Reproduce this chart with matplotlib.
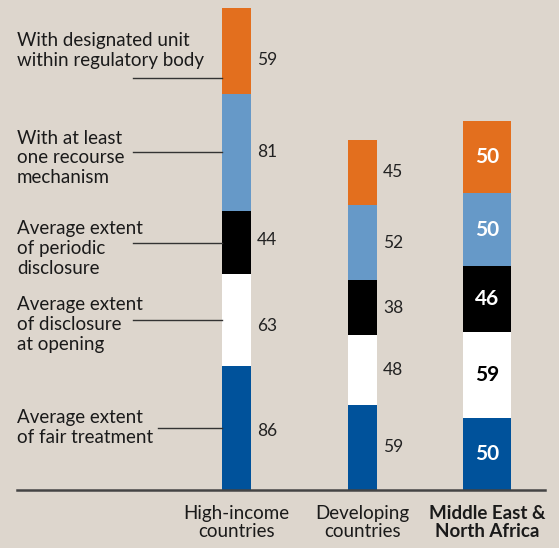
import matplotlib.pyplot as plt
import numpy as np

plt.rcParams['font.family'] = ['Lato', 'DejaVu Sans']

# data
groups = ['High-income\ncountries', 'Developing\ncountries', 'Middle East &\nNorth Africa']
components = ['Average extent\nof fair treatment',
              'Average extent\nof disclosure\nat opening',
              'Average extent\nof periodic\ndisclosure',
              'With at least\none recourse\nmechanism',
              'With designated unit\nwithin regulatory body']
high_income = [86, 63, 44, 81, 59]
developing = [59, 48, 38, 52, 45]
mena = [50, 59, 46, 50, 50]

colors = ['#00529b', '#ffffff', '#000000', '#6699c8', '#e36f1e']
bg = '#ddd6cd'

# layout (pixels)
W, H = 559, 548
base_px = 490
scale = 1.447  # px per unit
centers = [236.5, 362.5, 487]
widths = [29, 29, 48]
hi_val_dy = [-2, -4, 2, 0, -6]  # small nudges for the high-income value labels

fig = plt.figure(figsize=(W / 100, H / 100), dpi=100, facecolor=bg)
ax = fig.add_axes([0, (H - base_px) / H, 1, base_px / H])
ax.set_facecolor(bg)
ax.set_xlim(0, W)
ax.set_ylim(0, base_px / scale)
ax.axis('off')

series = [high_income, developing, mena]
for gi, vals in enumerate(series):
    bottom = 0
    for ci, v in enumerate(vals):
        ax.bar(centers[gi], v, width=widths[gi], bottom=bottom,
               color=colors[ci], linewidth=0)
        mid = bottom + v / 2
        if gi < 2:
            dy = hi_val_dy[ci] if gi == 0 else 0
            ax.text(centers[gi] + widths[gi] / 2 + 6, mid + dy, str(v),
                    ha='left', va='center', fontsize=12.5, color='#222222')
        else:
            tc = 'black' if colors[ci] == '#ffffff' else 'white'
            ax.text(centers[gi], mid, str(v), ha='center', va='center',
                    fontsize=15, fontweight='bold', color=tc)
        bottom += v

# left labels with leader lines
bottoms = np.concatenate([[0], np.cumsum(high_income)[:-1]])
mids = bottoms + np.array(high_income) / 2
lead_y = mids.copy()
lead_y[-1] = bottoms[-1] + 11
text_dy = [0, -3, -4, -4, 19]
lead_x0 = [158, 133, 133, 133, 133]
bar_left = centers[0] - widths[0] / 2
for i, lab in enumerate(components):
    ax.plot([lead_x0[i], bar_left], [lead_y[i], lead_y[i]], color='#333333', lw=1)
    ax.text(17, lead_y[i] + text_dy[i], lab, ha='left', va='center',
            fontsize=13.5, color='#1a1a1a', linespacing=1.2)

# baseline
ax.plot([17, 545], [0, 0], color='#444444', lw=1.8, clip_on=False)

# group labels
for gi, g in enumerate(groups):
    fw = 'bold' if gi == 2 else 'normal'
    x = centers[gi] / W
    fig.text(x, 1 - 505 / H, g, ha='center', va='top', fontsize=13.5,
             fontweight=fw, color='#1a1a1a', linespacing=1.1)

fig.savefig('out.png', dpi=100, facecolor=bg)
